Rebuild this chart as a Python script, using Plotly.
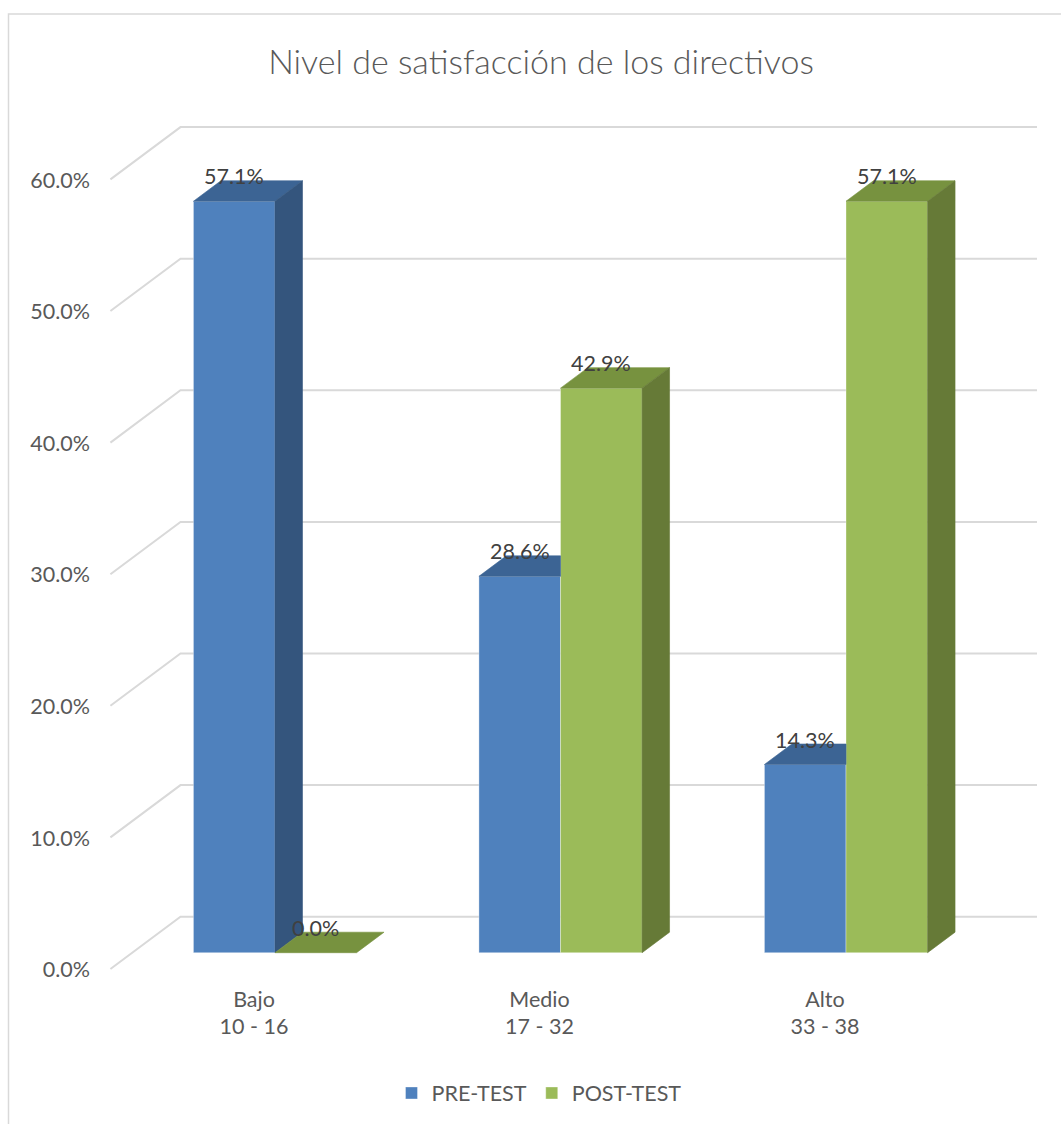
import plotly.graph_objects as go

# ---------------- data ----------------
categories = ["Bajo<br>10 - 16", "Medio<br>17 - 32", "Alto<br>33 - 38"]
series_names = ["PRE-TEST", "POST-TEST"]
pre_test = [0.571, 0.286, 0.143]
post_test = [0.0, 0.429, 0.571]
y_ticks = [0.0, 0.1, 0.2, 0.3, 0.4, 0.5, 0.6]
title_text = "Nivel de satisfacción de los directivos"

# ---------------- styling / geometry ----------------
FONT = "Lato"
FS = 21.5
W, H = 1061, 1124
M_L, M_R, M_T, M_B = 95, 0, 0, 144
PX_CAT = 285.5          # pixels per category
X0 = 275.0              # pixel of first category centre
PX_Y = 1316.0           # pixels per 100 %
Y0 = 952.7              # pixel of 0 % on the bar-front plane
SLANT = 1.34            # oblique projection: horizontal px per px of depth
BAR_DEPTH = 20.5
FLOOR_FRONT = -16.3
WALL_BACK = 36.0
BARGAP = 3 / 7

front_col = ["#4F81BD", "#9BBB59"]
top_col = ["#3C6494", "#77923F"]
side_col = ["#34557D", "#667A37"]
grid_col = "#D9D9D9"
text_col = "#595959"
label_col = "#404040"

x_range = [(M_L - X0) / PX_CAT, (W - M_R - X0) / PX_CAT]
y_range = [(Y0 - (H - M_B)) / PX_Y, (Y0 - M_T) / PX_Y]


def shift(depth):
    return SLANT * depth / PX_CAT, depth / PX_Y


n = len(categories)
xs = list(range(n))
bw = (1 - BARGAP) / 2
ddx, ddy = shift(BAR_DEPTH)

fig = go.Figure()

series = [pre_test, post_test]
for s, vals in enumerate(series):
    fig.add_trace(go.Bar(
        x=xs, y=vals, name=series_names[s],
        marker=dict(color=front_col[s], line=dict(color="rgba(255,255,255,0.35)", width=1)),
        hoverinfo="skip",
    ))


def poly(xp, yp, color):
    fig.add_trace(go.Scatter(
        x=xp + [xp[0]], y=yp + [yp[0]], mode="lines", fill="toself",
        fillcolor=color, line=dict(color=color, width=0.6),
        showlegend=False, hoverinfo="skip",
    ))


# 3D faces (top + side) computed from the values, with occlusion
for i in xs:
    for s, vals in enumerate(series):
        v = vals[i]
        xl = i - bw + s * bw
        xr = xl + bw
        if s == 0:
            other = post_test[i]
            if v > other:
                poly([xl, xl + ddx, xr + ddx, xr], [v, v + ddy, v + ddy, v], top_col[s])
                poly([xr, xr + ddx, xr + ddx, xr], [other, other + ddy, v + ddy, v], side_col[s])
            else:
                poly([xl, xl + ddx, xr, xr], [v, v + ddy, v + ddy, v], top_col[s])
        else:
            poly([xl, xl + ddx, xr + ddx, xr], [v, v + ddy, v + ddy, v], top_col[s])
            if v > 0:
                poly([xr, xr + ddx, xr + ddx, xr], [0, ddy, v + ddy, v], side_col[s])

# gridlines on left + back walls
fx, fy = shift(FLOOR_FRONT)
bx, by = shift(WALL_BACK)
wl, wr = -0.5, n - 0.5
shapes = []
for v in y_ticks:
    path = f"M {wl + fx},{v + fy} L {wl + bx},{v + by} L {wr + bx},{v + by}"
    shapes.append(dict(type="path", path=path, xref="x", yref="y", layer="below",
                       line=dict(color=grid_col, width=2)))

# outer chart border
plot_w = W - M_L - M_R
plot_h = H - M_T - M_B
shapes.append(dict(type="rect", xref="paper", yref="paper", layer="below",
                   x0=(8.5 - M_L) / plot_w, x1=(W + 20 - M_L) / plot_w,
                   y0=(H - M_B - (H + 20)) / plot_h, y1=(H - M_B - 14) / plot_h,
                   line=dict(color=grid_col, width=1.5)))

# data labels
annotations = []
for s, vals in enumerate(series):
    for i, v in enumerate(vals):
        annotations.append(dict(
            x=i - bw / 2 + s * bw, y=v, xref="x", yref="y", text=f"{v:.1%}",
            showarrow=False, yshift=25, font=dict(family=FONT, size=FS, color=label_col),
        ))

fig.update_layout(
    width=W, height=H,
    margin=dict(l=M_L, r=M_R, t=M_T, b=M_B, pad=0),
    paper_bgcolor="white", plot_bgcolor="white",
    barmode="group", bargap=BARGAP, bargroupgap=0,
    shapes=shapes, annotations=annotations,
    title=dict(text=title_text, x=541 / W, xref="container", xanchor="center",
               y=1 - 62 / H, yref="container", yanchor="middle",
               font=dict(family=FONT, size=34, color=text_col, weight=300)),
    legend=dict(orientation="h", xref="container", yref="container",
                x=539 / W, xanchor="center", y=1 - 1093 / H, yanchor="middle",
                font=dict(family=FONT, size=FS, color=text_col), traceorder="normal"),
    xaxis=dict(range=x_range, tickvals=xs, ticktext=categories, showgrid=False,
               zeroline=False, showline=False, ticks="", ticklabelshift=-21,
               ticklabelstandoff=4,
               tickfont=dict(family=FONT, size=FS, color=text_col), fixedrange=True),
    yaxis=dict(range=y_range, tickvals=y_ticks, tickformat=".1%", showgrid=False,
               zeroline=False, showline=False, ticks="", ticklabelshift=17,
               ticklabelstandoff=4,
               tickfont=dict(family=FONT, size=FS, color=text_col), fixedrange=True),
    font=dict(family=FONT),
)

fig.write_html("out.html")
